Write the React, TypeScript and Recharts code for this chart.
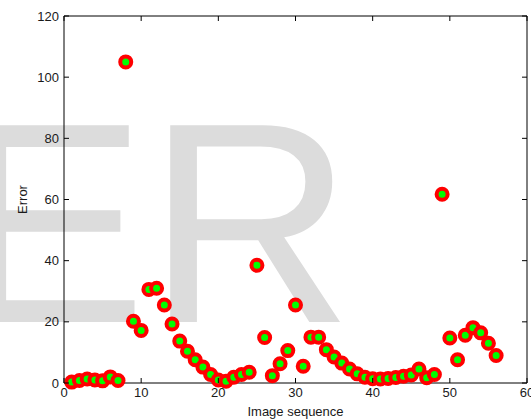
import React from 'react';
import { ScatterChart, Scatter, XAxis, YAxis } from 'recharts';

const imageIndex = [
  1, 2, 3, 4, 5, 6, 7, 8, 9, 10, 11, 12, 13, 14, 15, 16, 17, 18, 19, 20,
  21, 22, 23, 24, 25, 26, 27, 28, 29, 30, 31, 32, 33, 34, 35, 36, 37, 38, 39, 40,
  41, 42, 43, 44, 45, 46, 47, 48, 49, 50, 51, 52, 53, 54, 55, 56,
];
const errorValues = [
  0.3, 0.8, 1.3, 1.0, 0.7, 2.0, 0.8, 105.0, 20.2, 17.2, 30.6, 31.0, 25.5, 19.3, 13.7, 10.4, 7.6, 5.2, 2.8, 1.0,
  0.6, 1.9, 2.8, 3.5, 38.5, 14.9, 2.4, 6.3, 10.6, 25.5, 5.5, 15.0, 15.0, 10.9, 8.5, 6.5, 4.6, 3.0, 1.9, 1.4,
  1.3, 1.5, 1.8, 2.2, 2.6, 4.6, 1.7, 2.8, 61.7, 14.7, 7.6, 15.6, 18.1, 16.4, 13.0, 9.0,
];
const xTicks = [0, 10, 20, 30, 40, 50, 60];
const yTicks = [0, 20, 40, 60, 80, 100, 120];
const watermark = 'ER';
const xTitle = 'Image sequence';
const yTitle = 'Error';

const data = imageIndex.map((x, i) => ({ x, y: errorValues[i] }));

const FONT = '"Liberation Sans", Arial, sans-serif';
const TEXT = '#1a1a1a';
const TL = 5;
const XM = 5;
const YM = 5;

const Marker = (props: any) => (
  <circle cx={props.cx} cy={props.cy} r={5.5} fill="#00ff00" stroke="#ff0000" strokeWidth={4} />
);

const BottomTick = (props: any) => {
  const { x, y, payload } = props;
  const ay = y - XM;
  return (
    <g>
      <line x1={x} y1={ay} x2={x} y2={ay - TL} stroke="#000" />
      <text x={x} y={y} dy="0.71em" textAnchor="middle" fontSize={13} fontFamily={FONT} fill={TEXT}>
        {payload.value}
      </text>
    </g>
  );
};

const LeftTick = (props: any) => {
  const { x, y, payload } = props;
  const ax = x + YM;
  return (
    <g>
      <line x1={ax} y1={y} x2={ax + TL} y2={y} stroke="#000" />
      <text x={x} y={y} dy="0.355em" textAnchor="end" fontSize={13} fontFamily={FONT} fill={TEXT}>
        {payload.value}
      </text>
    </g>
  );
};

const TopTick = (props: any) => {
  const { x, y } = props;
  return <line x1={x} y1={y} x2={x} y2={y + TL} stroke="#000" />;
};

const RightTick = (props: any) => {
  const { x, y } = props;
  return <line x1={x} y1={y} x2={x - TL} y2={y} stroke="#000" />;
};

const YLabel = (props: any) => {
  const vb = props.viewBox || {};
  const cy = vb.y != null && vb.height != null ? vb.y + vb.height / 2 : 199.5;
  const cx = 27;
  return (
    <text
      x={cx}
      y={cy}
      transform={`rotate(-90 ${cx} ${cy})`}
      textAnchor="middle"
      fontSize={13}
      fontFamily={FONT}
      fill={TEXT}
    >
      {yTitle}
    </text>
  );
};

export default function App() {
  return (
    <div style={{ position: 'absolute', left: 0, top: 0, width: 531, height: 420, background: '#fff' }}>
      <svg width={531} height={420} style={{ position: 'absolute', left: 0, top: 0 }}>
        <text x={-44} y={322} fontSize={286} fontFamily={FONT} fill="#dcdcdc">
          {watermark}
        </text>
      </svg>
      <div style={{ position: 'absolute', left: 0, top: 0 }}>
        <ScatterChart width={531} height={420} margin={{ top: 15, right: 3, left: 0, bottom: 0 }}>
          <XAxis
            xAxisId="b"
            dataKey="x"
            type="number"
            domain={[0, 60]}
            ticks={xTicks}
            orientation="bottom"
            height={37}
            tickSize={0}
            tickMargin={XM}
            tick={<BottomTick />}
            axisLine={{ stroke: '#000' }}
            tickLine={false}
            interval={0}
            label={{ value: xTitle, position: 'insideBottom', offset: 4, fontSize: 13, fill: TEXT, fontFamily: FONT }}
          />
          <XAxis
            xAxisId="t"
            dataKey="x"
            type="number"
            domain={[0, 60]}
            ticks={xTicks}
            orientation="top"
            height={1}
            tickSize={0}
            tickMargin={0}
            tick={<TopTick />}
            axisLine={{ stroke: '#000' }}
            tickLine={false}
            interval={0}
          />
          <YAxis
            yAxisId="l"
            dataKey="y"
            type="number"
            domain={[0, 120]}
            ticks={yTicks}
            orientation="left"
            width={64}
            tickSize={0}
            tickMargin={YM}
            tick={<LeftTick />}
            axisLine={{ stroke: '#000' }}
            tickLine={false}
            interval={0}
            label={<YLabel />}
          />
          <YAxis
            yAxisId="r"
            dataKey="y"
            type="number"
            domain={[0, 120]}
            ticks={yTicks}
            orientation="right"
            width={1}
            tickSize={0}
            tickMargin={0}
            tick={<RightTick />}
            axisLine={{ stroke: '#000' }}
            tickLine={false}
            interval={0}
          />
          <Scatter
            data={data}
            xAxisId="t"
            yAxisId="r"
            shape={() => <g />}
            isAnimationActive={false}
          />
          <Scatter
            data={data}
            xAxisId="b"
            yAxisId="l"
            shape={<Marker />}
            isAnimationActive={false}
          />
        </ScatterChart>
      </div>
    </div>
  );
}
